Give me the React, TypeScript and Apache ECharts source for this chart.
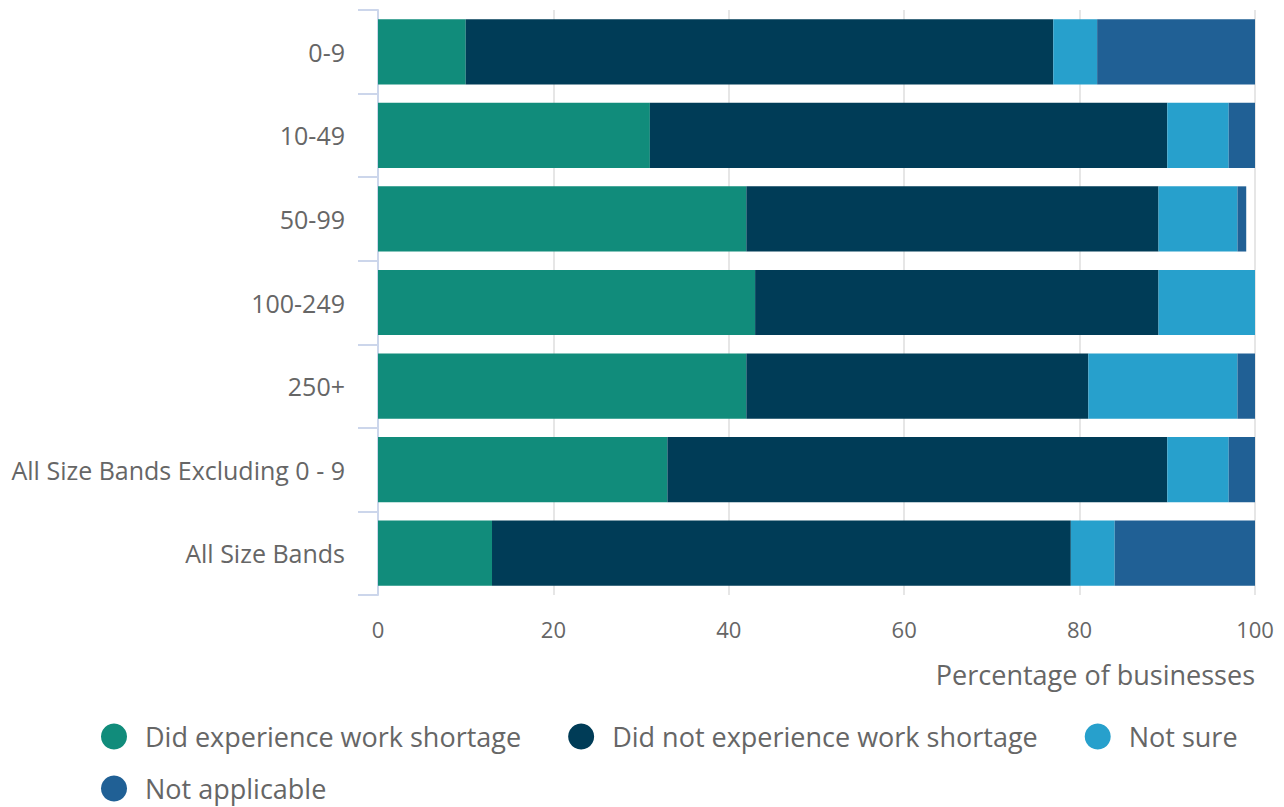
import React, { useEffect, useRef } from "react";
import * as echarts from "echarts";

const categories = ["0-9", "10-49", "50-99", "100-249", "250+", "All Size Bands Excluding 0 - 9", "All Size Bands"];
const didExperience = [10, 31, 42, 43, 42, 33, 13];
const didNotExperience = [67, 59, 47, 46, 39, 57, 66];
const notSure = [5, 7, 9, 11, 17, 7, 5];
const notApplicable = [18, 3, 1, 0, 2, 3, 16];
const xTicks = [0, 20, 40, 60, 80, 100];

const seriesNames = ["Did experience work shortage", "Did not experience work shortage", "Not sure", "Not applicable"];
const colors = ["#118C7B", "#003C57", "#27A0CC", "#206095"];

export default function App() {
  const ref = useRef<HTMLDivElement>(null);
  useEffect(() => {
    if (!ref.current) return;
    const chart = echarts.init(ref.current, null, { renderer: "svg" });
    const font = "'Open Sans', 'Noto Sans', sans-serif";
    const data = [didExperience, didNotExperience, notSure, notApplicable];
    const legendBase = {
      icon: "circle",
      itemWidth: 52,
      itemHeight: 26,
      itemGap: 47,
      textStyle: { color: "#666666", fontSize: 27, fontFamily: font },
    };
    chart.setOption({
      animation: false,
      textStyle: { fontFamily: font },
      grid: { left: 378, right: 29, top: 10, bottom: 212, containLabel: false },
      xAxis: {
        type: "value",
        min: xTicks[0],
        max: xTicks[xTicks.length - 1],
        interval: 20,
        axisLine: { show: false },
        axisTick: { show: false },
        splitLine: { show: true, lineStyle: { color: "#e6e6e6", width: 2 } },
        axisLabel: { color: "#666666", fontSize: 22, margin: 23, fontFamily: font },
        name: "Percentage of businesses",
        nameLocation: "end",
        nameGap: 0,
        nameTextStyle: { color: "#666666", fontSize: 27, align: "right", verticalAlign: "top", padding: [66, 0, 0, 0], fontFamily: font },
      },
      yAxis: {
        type: "category",
        data: categories,
        inverse: true,
        axisLine: { show: true, lineStyle: { color: "#ccd6eb", width: 2 } },
        axisTick: { show: true, length: 20, lineStyle: { color: "#ccd6eb", width: 2 } },
        axisLabel: { color: "#666666", fontSize: 25, margin: 33, fontFamily: font },
        splitLine: { show: false },
      },
      legend: [
        { ...legendBase, left: 96, top: 718, data: seriesNames.slice(0, 3) },
        { ...legendBase, left: 96, top: 770, data: seriesNames.slice(3) },
      ],
      series: seriesNames.map((name, i) => ({
        name,
        type: "bar",
        stack: "total",
        barCategoryGap: "22%",
        itemStyle: { color: colors[i] },
        emphasis: { disabled: true },
        data: data[i],
      })),
    });
    return () => chart.dispose();
  }, []);
  return <div ref={ref} style={{ width: 1284, height: 807, position: "absolute", left: 0, top: 0 }} />;
}
